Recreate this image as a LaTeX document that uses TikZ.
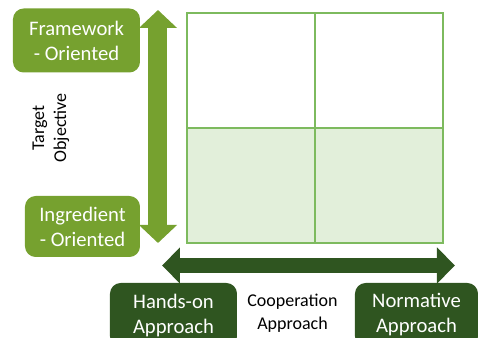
\documentclass[tikz,border=0pt]{standalone}
\usepackage{fontspec}
\setmainfont{Carlito}
\usetikzlibrary{arrows.meta}
\definecolor{olive}{HTML}{76A12F}
\definecolor{forest}{HTML}{2F5520}
\definecolor{gridgreen}{HTML}{7DBA5E}
\definecolor{cellfill}{HTML}{E2EFDA}
\tikzset{
  label box/.style={rounded corners=8pt, text=white, align=center,
    font=\fontsize{15.5}{18.75}\selectfont, inner sep=0pt},
  light box/.style={label box, fill=olive},
  dark box/.style={label box, fill=forest},
  axis text/.style={align=center, text=black, inner sep=0pt},
  fat arrow/.style={line width=14.25pt,
    {Triangle[length=13.5pt,width=27.75pt]}-{Triangle[length=13.5pt,width=27.75pt]}}
}

\begin{document}
\begin{tikzpicture}[x=0.75pt,y=-0.75pt]
    \useasboundingbox (0,0) rectangle (480,338);
    \clip (0,0) rectangle (480,338);

    % quadrant grid
    \fill [cellfill] (187,128) rectangle (443,243);
    \draw [gridgreen, line width=1.1pt] (187,13) rectangle (443,243);
    \draw [gridgreen, line width=1.1pt] (187,128) -- (443,128);
    \draw [gridgreen, line width=1.1pt] (315,13) -- (315,243);

    % target objective axis
    \coordinate (vtop) at (158,10);
    \coordinate (vbot) at (158,243);
    \draw [fat arrow, olive] (vbot) -- (vtop);
    \node [light box, minimum width=95.25pt, minimum height=48pt] (framework) at (76.5,40.5) {Framework\\- Oriented};
    \node [light box, minimum width=86.25pt, minimum height=45.75pt] (ingredient) at (82.5,226.5) {Ingredient\\- Oriented};
    \node [axis text, rotate=90, font=\fontsize{13.5}{16.5}\selectfont] (target) at (51,128) {Target\\Objective};

    % cooperation axis
    \coordinate (hleft) at (162,265.5);
    \coordinate (hright) at (455,265.5);
    \draw [fat arrow, forest, line width=11.25pt,
      {Triangle[length=13.5pt,width=26.25pt]}-{Triangle[length=13.5pt,width=26.25pt]}] (hleft) -- (hright);
    \node [dark box, minimum width=95.25pt, minimum height=48pt] (handson) at (173.5,315) {Hands-on\\Approach};
    \node [dark box, minimum width=92.25pt, minimum height=48pt] (normative) at (416.5,315) {Normative\\Approach};
    \node [axis text, font=\fontsize{13.5}{17.25}\selectfont] (coop) at (292.5,313.5) {Cooperation\\Approach};
\end{tikzpicture}
\end{document}
